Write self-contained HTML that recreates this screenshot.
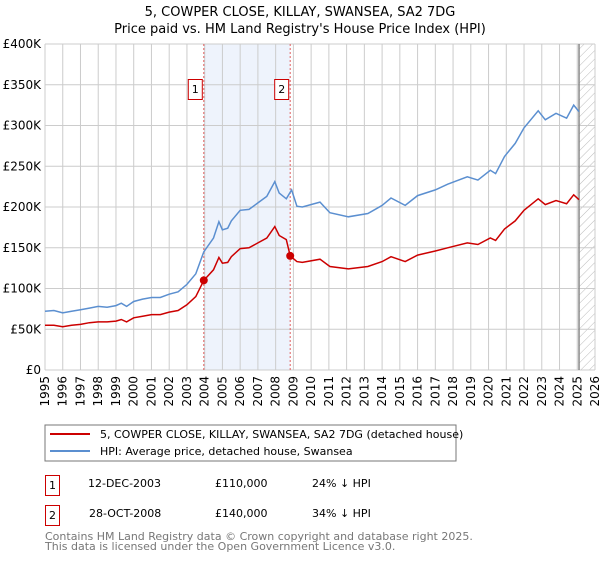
<!DOCTYPE html>
<html><head><meta charset="utf-8"><style>
body{margin:0;background:#fff;font-family:"DejaVu Sans","Liberation Sans",sans-serif;}
svg text{font-family:"DejaVu Sans","Liberation Sans",sans-serif;}
</style></head><body>
<svg id="chart" width="600" height="560" viewBox="0 0 600 560" xmlns="http://www.w3.org/2000/svg">
<defs><pattern id="hatch" width="6" height="6" patternUnits="userSpaceOnUse" patternTransform="rotate(45)"><line x1="0" y1="0" x2="0" y2="6" stroke="#bbb" stroke-width="1"/></pattern></defs>
<text x="300" y="16" text-anchor="middle" font-size="13">5, COWPER CLOSE, KILLAY, SWANSEA, SA2 7DG</text>
<text x="300" y="33" text-anchor="middle" font-size="13">Price paid vs. HM Land Registry's House Price Index (HPI)</text>
<g id="grid"></g><g id="marks"></g><g id="axes"></g>
<rect x="45" y="425" width="411" height="36" fill="#fff" stroke="#777"/>
<line x1="50" y1="434" x2="90" y2="434" stroke="#cc0000" stroke-width="2"/>
<text x="100" y="438" font-size="11">5, COWPER CLOSE, KILLAY, SWANSEA, SA2 7DG (detached house)</text>
<line x1="50" y1="451" x2="90" y2="451" stroke="#5b8fd0" stroke-width="2"/>
<text x="100" y="455" font-size="11">HPI: Average price, detached house, Swansea</text>
<g font-size="11">
<rect x="45.5" y="475.5" width="14" height="20" fill="#fff" stroke="#cc0000"/>
<text x="52.5" y="489" text-anchor="middle">1</text>
<text x="88" y="487">12-DEC-2003</text>
<text x="215" y="487">£110,000</text>
<text x="312" y="487">24% ↓ HPI</text>
<rect x="45.5" y="505.5" width="14" height="20" fill="#fff" stroke="#cc0000"/>
<text x="52.5" y="519" text-anchor="middle">2</text>
<text x="89" y="517">28-OCT-2008</text>
<text x="215" y="517">£140,000</text>
<text x="312" y="517">34% ↓ HPI</text>
</g>
<text x="45" y="540" font-size="11" fill="#777">Contains HM Land Registry data © Crown copyright and database right 2025.</text>
<text x="45" y="550" font-size="11" fill="#777">This data is licensed under the Open Government Licence v3.0.</text>
</svg>
<script>
const hpiYears=[1995,1995.5,1996,1996.5,1997,1997.5,1998,1998.5,1999,1999.3,1999.6,2000,2000.5,2001,2001.5,2002,2002.5,2003,2003.5,2003.95,2004.5,2004.8,2005,2005.3,2005.5,2006,2006.5,2007,2007.5,2007.95,2008.2,2008.6,2008.9,2009.2,2009.5,2010.5,2011.06,2012.1,2013.2,2014.0,2014.5,2015.3,2016.0,2017.0,2017.7,2018.8,2019.4,2020.1,2020.4,2020.9,2021.5,2022.0,2022.8,2023.2,2023.8,2024.4,2024.8,2025.1];
const hpiValues=[72,73,70,72,74,76,78,77,79,82,78,84,87,89,89,93,96,105,118,145,162,182,172,174,183,196,197,205,213,231,217,210,221,201,200,206,193,188,192,202,211,202,214,221,228,237,233,245,241,262,278,297,318,307,315,309,325,317];
const paidYears=[1995,1995.5,1996,1996.5,1997,1997.5,1998,1998.5,1999,1999.3,1999.6,2000,2000.5,2001,2001.5,2002,2002.5,2003,2003.5,2003.95,2004.5,2004.8,2005,2005.3,2005.5,2006,2006.5,2007,2007.5,2007.95,2008.2,2008.6,2008.82,2009.2,2009.5,2010.5,2011.06,2012.1,2013.2,2014.0,2014.5,2015.3,2016.0,2017.0,2017.7,2018.8,2019.4,2020.1,2020.4,2020.9,2021.5,2022.0,2022.8,2023.2,2023.8,2024.4,2024.8,2025.1];
const paidValues=[55,55,53,55,56,58,59,59,60,62,59,64,66,68,68,71,73,80,90,110,123,138,131,132,139,149,150,156,162,176,165,160,140,133,132,136,127,124,127,133,139,133,141,146,150,156,154,162,159,173,183,196,210,203,208,204,215,209];
const saleYears=[2003.95,2008.82];
const saleValues=[110,140];
const saleLabels=["1","2"];
const yTicks=[0,50,100,150,200,250,300,350,400];
const yTickLabels=["£0","£50K","£100K","£150K","£200K","£250K","£300K","£350K","£400K"];
const xTicks=[1995,1996,1997,1998,1999,2000,2001,2002,2003,2004,2005,2006,2007,2008,2009,2010,2011,2012,2013,2014,2015,2016,2017,2018,2019,2020,2021,2022,2023,2024,2025,2026];
const dataEndYear=2025.1;

const NS="http://www.w3.org/2000/svg";
const X0=45,X1=595,Y0=370,Y1=44;
const xs=y=>X0+(y-1995)/(2026-1995)*(X1-X0);
const ys=v=>Y0-v/400*(Y0-Y1);
function mk(tag,attrs,parent){const e=document.createElementNS(NS,tag);for(const k in attrs)e.setAttribute(k,attrs[k]);parent.appendChild(e);return e;}
const grid=document.getElementById('grid'),marks=document.getElementById('marks'),axes=document.getElementById('axes');

let r=mk('rect',{x:xs(saleYears[0]),y:Y1,width:xs(saleYears[1])-xs(saleYears[0]),height:Y0-Y1,fill:'#eef3fc'},grid);


let h=mk('rect',{x:xs(dataEndYear),y:Y1,width:X1-xs(dataEndYear),height:Y0-Y1,fill:'url(#hatch)'},grid);



yTicks.forEach((t,i)=>{
 const l=mk('line',{x1:X0,x2:X1,y1:ys(t),y2:ys(t),stroke:'#ccc'},grid);
 
 
 const tx=mk('text',{x:X0-4,y:ys(t)+4,'text-anchor':'end','font-size':12},axes);
 tx.textContent=yTickLabels[i];
 
 
});
xTicks.forEach(t=>{
 const l=mk('line',{x1:xs(t),x2:xs(t),y1:Y1,y2:Y0,stroke:'#ccc'},grid);
 
 
 const tx=mk('text',{x:0,y:0,'text-anchor':'end','font-size':12,transform:`translate(${xs(t)+4},${Y0+6}) rotate(-90)`},axes);
 tx.textContent=t;
 
 
});
let el=mk('line',{x1:xs(dataEndYear),x2:xs(dataEndYear),y1:Y1,y2:Y0,stroke:'#888','stroke-width':1.5},grid);



saleYears.forEach((s,i)=>{
 const l=mk('line',{x1:xs(s),x2:xs(s),y1:Y1,y2:Y0,stroke:'#e06060','stroke-dasharray':'2,2'},marks);
 
 
});

const path=(ya,va)=>ya.map((y,i)=>(i?'L':'M')+xs(y).toFixed(1)+','+ys(va[i]).toFixed(1)).join(' ');
let hp=mk('path',{d:path(hpiYears,hpiValues),fill:'none',stroke:'#5b8fd0','stroke-width':1.5},marks);


let pp=mk('path',{d:path(paidYears,paidValues),fill:'none',stroke:'#cc0000','stroke-width':1.5},marks);



saleYears.forEach((s,i)=>{
 const c=mk('circle',{cx:xs(s),cy:ys(saleValues[i]),r:4,fill:'#cc0000'},marks);
 
 
 const b=mk('rect',{x:xs(s)-15.5,y:79.5,width:14,height:20,fill:'#fff',stroke:'#cc0000'},marks);
 
 
 const t=mk('text',{x:xs(s)-8.5,y:93,'text-anchor':'middle','font-size':11},marks);
 t.textContent=saleLabels[i];
 
 
});
</script>
</body></html>
